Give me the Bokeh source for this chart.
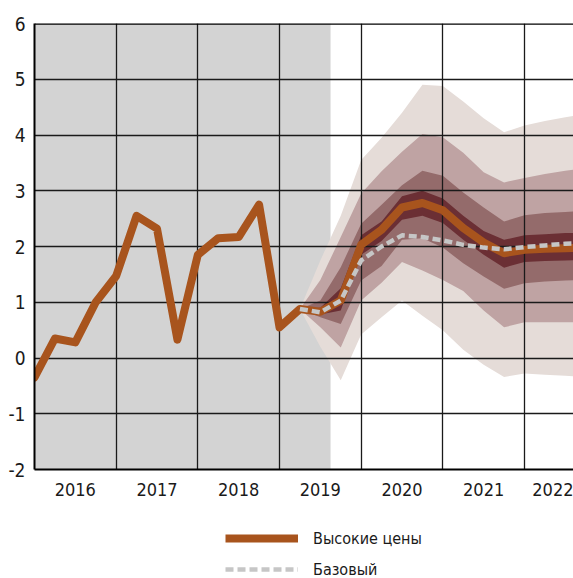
from bokeh.plotting import figure
from bokeh.models import Range1d, FixedTicker, Span, Legend, LegendItem
from bokeh.layouts import column
from bokeh.embed import file_html
from bokeh.resources import INLINE

# ---------------- data ----------------
quarters = [2016.0, 2016.25, 2016.5, 2016.75,
            2017.0, 2017.25, 2017.5, 2017.75,
            2018.0, 2018.25, 2018.5, 2018.75,
            2019.0, 2019.25, 2019.5, 2019.75,
            2020.0, 2020.25, 2020.5, 2020.75,
            2021.0, 2021.25, 2021.5, 2021.75,
            2022.0, 2022.25, 2022.5, 2022.75]
high_prices = [-0.35, 0.35, 0.28, 1.0,
               1.47, 2.55, 2.32, 0.33,
               1.85, 2.15, 2.17, 2.75,
               0.55, 0.88, 0.83, 1.03,
               2.03, 2.3, 2.7, 2.78,
               2.65, 2.33, 2.07, 1.88,
               1.94, 1.96, 1.97, 1.98]

fan_x = [2019.25, 2019.5, 2019.75, 2020.0, 2020.25, 2020.5, 2020.75,
         2021.0, 2021.25, 2021.5, 2021.75, 2022.0, 2022.25, 2022.5, 2022.75]
baseline = [0.88, 0.82, 1.03, 1.75, 2.0, 2.2, 2.17,
            2.11, 2.03, 1.98, 1.95, 1.99, 2.02, 2.05, 2.06]

outer_hi = [0.88, 1.75, 2.55, 3.55, 3.95, 4.4, 4.9, 4.88, 4.6, 4.3, 4.05, 4.17, 4.25, 4.32, 4.37]
outer_lo = [0.88, 0.2, -0.4, 0.42, 0.73, 1.03, 0.76, 0.5, 0.15, -0.12, -0.34, -0.28, -0.3, -0.32, -0.34]
b2_hi = [0.88, 1.4, 2.17, 2.95, 3.35, 3.7, 4.02, 3.96, 3.68, 3.33, 3.15, 3.23, 3.3, 3.36, 3.4]
b2_lo = [0.88, 0.55, 0.19, 1.03, 1.35, 1.72, 1.57, 1.4, 1.2, 0.85, 0.55, 0.64, 0.64, 0.64, 0.64]
b3_hi = [0.88, 1.03, 1.63, 2.41, 2.75, 3.1, 3.36, 3.27, 2.97, 2.7, 2.45, 2.56, 2.6, 2.62, 2.64]
b3_lo = [0.88, 0.73, 0.61, 1.39, 1.65, 2.12, 2.15, 1.98, 1.7, 1.46, 1.24, 1.34, 1.37, 1.39, 1.4]
b4_hi = [0.88, 0.9, 1.25, 2.2, 2.45, 2.9, 3.0, 2.86, 2.55, 2.28, 2.12, 2.2, 2.22, 2.24, 2.25]
b4_lo = [0.88, 0.78, 0.85, 1.85, 2.1, 2.48, 2.55, 2.42, 2.12, 1.85, 1.62, 1.72, 1.74, 1.75, 1.76]

hist_start = 2016.0
hist_end = 2019.625

year_ticks = [2016.5, 2017.5, 2018.5, 2019.5, 2020.5, 2021.5, 2022.5]
year_labels = ["2016", "2017", "2018", "2019", "2020", "2021", "2022"]
year_bounds = [2017, 2018, 2019, 2020, 2021, 2022]
y_ticks = [-2, -1, 0, 1, 2, 3, 4, 5, 6]
y_labels = ["-2", "-1", "0", "1", "2", "3", "4", "5", "6"]

FONT = "'DejaVu Sans Condensed', 'Liberation Sans Narrow', Roboto, sans-serif"

HIGH_COLOR = "#a8541d"
BASE_COLOR = "#c6c6c6"

# ---------------- main figure ----------------
p = figure(width=573, height=513, output_backend="svg", toolbar_location=None,
           x_range=Range1d(2016.0, 2022.6), y_range=Range1d(-2, 6),
           min_border_left=34, min_border_top=23, min_border_bottom=44,
           min_border_right=0)
p.outline_line_color = None
p.background_fill_color = "white"
p.border_fill_color = "white"

# historical shading
p.quad(left=[hist_start], right=[hist_end], bottom=[-2], top=[6],
       fill_color="#d3d3d3", line_color=None, level="image")

# fan bands
for lo, hi, col in [(outer_lo, outer_hi, "#e5dcd8"),
                    (b2_lo, b2_hi, "#bfa3a3"),
                    (b3_lo, b3_hi, "#946b6b"),
                    (b4_lo, b4_hi, "#6b2f34")]:
    p.varea(x=fan_x, y1=lo, y2=hi, fill_color=col, level="image")

p.line(quarters, high_prices, line_width=8, line_color=HIGH_COLOR,
       line_join="round", line_cap="round")
p.line(fan_x, baseline, line_width=4.5, line_color=BASE_COLOR, line_dash="8 4")

# grids
p.xgrid.ticker = FixedTicker(ticks=year_bounds)
p.ygrid.ticker = FixedTicker(ticks=y_ticks)
for g in (p.xgrid, p.ygrid):
    g.grid_line_color = "#1a1a1a"
    g.grid_line_width = 1.3

# axes
p.xaxis.ticker = FixedTicker(ticks=year_ticks)
p.xaxis.major_label_overrides = {t: l for t, l in zip(year_ticks, year_labels)}
p.yaxis.ticker = FixedTicker(ticks=y_ticks)
p.yaxis.major_label_overrides = {t: l for t, l in zip(y_ticks, y_labels)}
for ax in (p.xaxis, p.yaxis):
    ax.axis_line_color = "black"
    ax.axis_line_width = 2
    ax.major_tick_in = 0
    ax.major_tick_out = 0
    ax.minor_tick_in = 0
    ax.minor_tick_out = 0
    ax.major_label_text_font = FONT
    ax.major_label_text_color = "#1a1a1a"
p.xaxis.major_label_text_font_size = "18px"
p.xaxis.major_label_standoff = 13
p.yaxis.major_label_text_font_size = "19px"
p.yaxis.major_label_standoff = 9

p.add_layout(Span(location=6, dimension="width", line_color="black", line_width=2.5))

# ---------------- legend figure ----------------
lg = figure(width=573, height=65, output_backend="svg", toolbar_location=None,
            x_range=Range1d(0, 1), y_range=Range1d(0, 1),
            x_axis_location=None, y_axis_location=None,
            min_border=0, min_border_left=0, min_border_right=0,
            min_border_top=0, min_border_bottom=0)
lg.grid.visible = False
lg.outline_line_color = None
# legend keys only (kept outside the visible range)
r_high = lg.line([-2, -1], [-2, -2], line_width=8, line_color=HIGH_COLOR)
r_base = lg.line([-2, -1], [-2, -2], line_width=4.5, line_color=BASE_COLOR, line_dash="8 4")

legend = Legend(items=[LegendItem(label="Высокие цены", renderers=[r_high]),
                       LegendItem(label="Базовый", renderers=[r_base])],
                location=(191, -2), orientation="vertical",
                glyph_width=73, glyph_height=22, label_height=22, spacing=9,
                padding=0, margin=0, label_standoff=15,
                border_line_alpha=0, background_fill_alpha=0,
                label_text_font=FONT, label_text_font_size="16px",
                label_text_color="#1a1a1a")
lg.add_layout(legend, "center")

open("out.html", "w").write(file_html(column(p, lg), INLINE))
